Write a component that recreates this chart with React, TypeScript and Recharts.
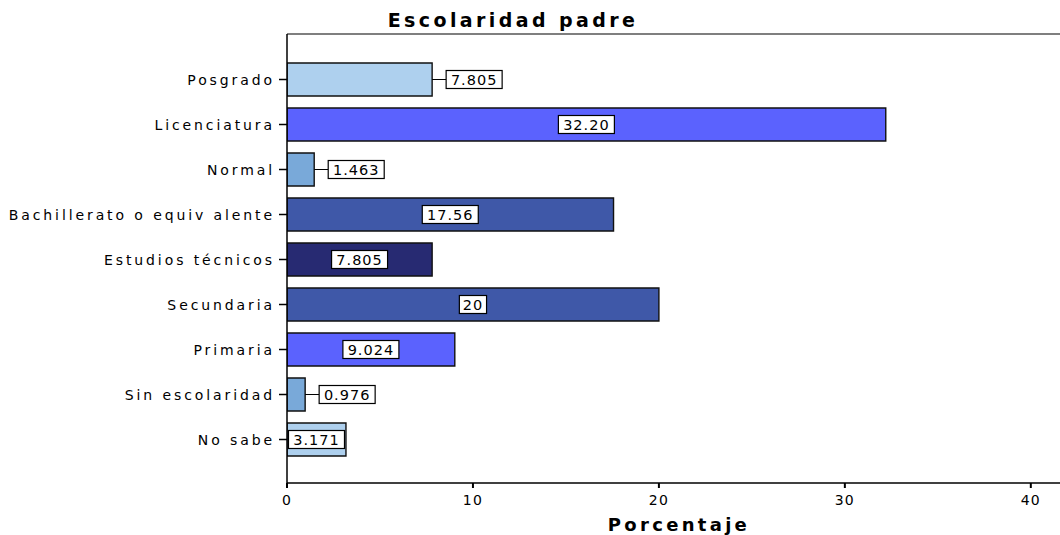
import React from "react";
import { BarChart, Bar, XAxis, YAxis, Cell, LabelList } from "recharts";

const categories = [
  "Posgrado",
  "Licenciatura",
  "Normal",
  "Bachillerato o equiv alente",
  "Estudios técnicos",
  "Secundaria",
  "Primaria",
  "Sin escolaridad",
  "No sabe",
];
const percentages = [7.805, 32.2, 1.463, 17.56, 7.805, 20, 9.024, 0.976, 3.171];
const valueLabels = ["7.805", "32.20", "1.463", "17.56", "7.805", "20", "9.024", "0.976", "3.171"];
const xTicks = [0, 10, 20, 30, 40];

// labels drawn beside the bar instead of inside it
const outsideLabels = ["Posgrado", "Normal", "Sin escolaridad"];

const barColors = [
  "#aed0ee",
  "#5b62fe",
  "#79a9d9",
  "#3f58a8",
  "#272a72",
  "#3f58a8",
  "#5b62fe",
  "#79a9d9",
  "#aed0ee",
];

const data = categories.map((name, i) => ({
  name,
  value: percentages[i],
  label: valueLabels[i],
}));

const FONT = "'DejaVu Sans', sans-serif";

function CategoryTick(props: any) {
  const { x, y, payload } = props;
  return (
    <text
      x={x - 2}
      y={y}
      dy={5}
      textAnchor="end"
      fontFamily={FONT}
      fontSize={14}
      letterSpacing={2.9}
      fill="#000"
    >
      {payload.value}
    </text>
  );
}

function NumberTick(props: any) {
  const { x, y, payload } = props;
  return (
    <text
      x={x}
      y={y}
      dy={15}
      textAnchor="middle"
      fontFamily={FONT}
      fontSize={14}
      letterSpacing={1.2}
      fill="#000"
    >
      {payload.value}
    </text>
  );
}

function ValueLabel(props: any) {
  const { x, y, width, height, index } = props;
  const text = valueLabels[index];
  const boxW = text.length * 9.6 + 8;
  const boxH = 18;
  const cy = y + height / 2;
  const outside = outsideLabels.includes(categories[index]);
  const end = x + width;
  const bx = outside ? end + 14 : x + width / 2 - boxW / 2;
  return (
    <g>
      {outside && <line x1={end} y1={cy} x2={bx} y2={cy} stroke="#000" strokeWidth={1} />}
      <rect x={bx} y={cy - boxH / 2} width={boxW} height={boxH} fill="#fff" stroke="#000" strokeWidth={1.2} />
      <text
        x={bx + boxW / 2}
        y={cy}
        dy={5}
        textAnchor="middle"
        fontFamily={FONT}
        fontSize={14.5}
        letterSpacing={1}
        fill="#000"
      >
        {text}
      </text>
    </g>
  );
}

export default function App() {
  return (
    <div style={{ position: "absolute", left: 0, top: 0, width: 1060, height: 535, overflow: "hidden", background: "#fff" }}>
      <BarChart
        width={1068}
        height={535}
        data={data}
        layout="vertical"
        margin={{ top: 33, right: 0, bottom: 30, left: 0 }}
      >
        <XAxis
          xAxisId="main"
          type="number"
          domain={[0, 42]}
          ticks={xTicks}
          allowDataOverflow
          tickSize={5}
          height={22}
          axisLine={{ stroke: "#000", strokeWidth: 1.5 }}
          tickLine={{ stroke: "#000", strokeWidth: 2 }}
          tick={<NumberTick />}
        />
        <XAxis
          xAxisId="top"
          orientation="top"
          type="number"
          domain={[0, 42]}
          height={1}
          tick={false}
          tickLine={false}
          axisLine={{ stroke: "#000", strokeWidth: 1.2 }}
        />
        <YAxis
          type="category"
          dataKey="name"
          width={287}
          padding={{ top: 23, bottom: 21 }}
          tickSize={8}
          axisLine={{ stroke: "#000", strokeWidth: 1.5 }}
          tickLine={{ stroke: "#000", strokeWidth: 1.5 }}
          tick={<CategoryTick />}
          interval={0}
        />
        <Bar
          xAxisId="main"
          dataKey="value"
          barSize={33}
          stroke="#111"
          strokeWidth={1.4}
          isAnimationActive={false}
        >
          {data.map((d, i) => (
            <Cell key={d.name} fill={barColors[i]} />
          ))}
          <LabelList dataKey="label" content={<ValueLabel />} />
        </Bar>
        <text
          x={513}
          y={27}
          textAnchor="middle"
          fontFamily={FONT}
          fontWeight="bold"
          fontSize={19}
          letterSpacing={3.4}
          fill="#000"
        >
          Escolaridad padre
        </text>
        <text
          x={679}
          y={531}
          textAnchor="middle"
          fontFamily={FONT}
          fontWeight="bold"
          fontSize={18}
          letterSpacing={3.3}
          fill="#000"
        >
          Porcentaje
        </text>
      </BarChart>
    </div>
  );
}
